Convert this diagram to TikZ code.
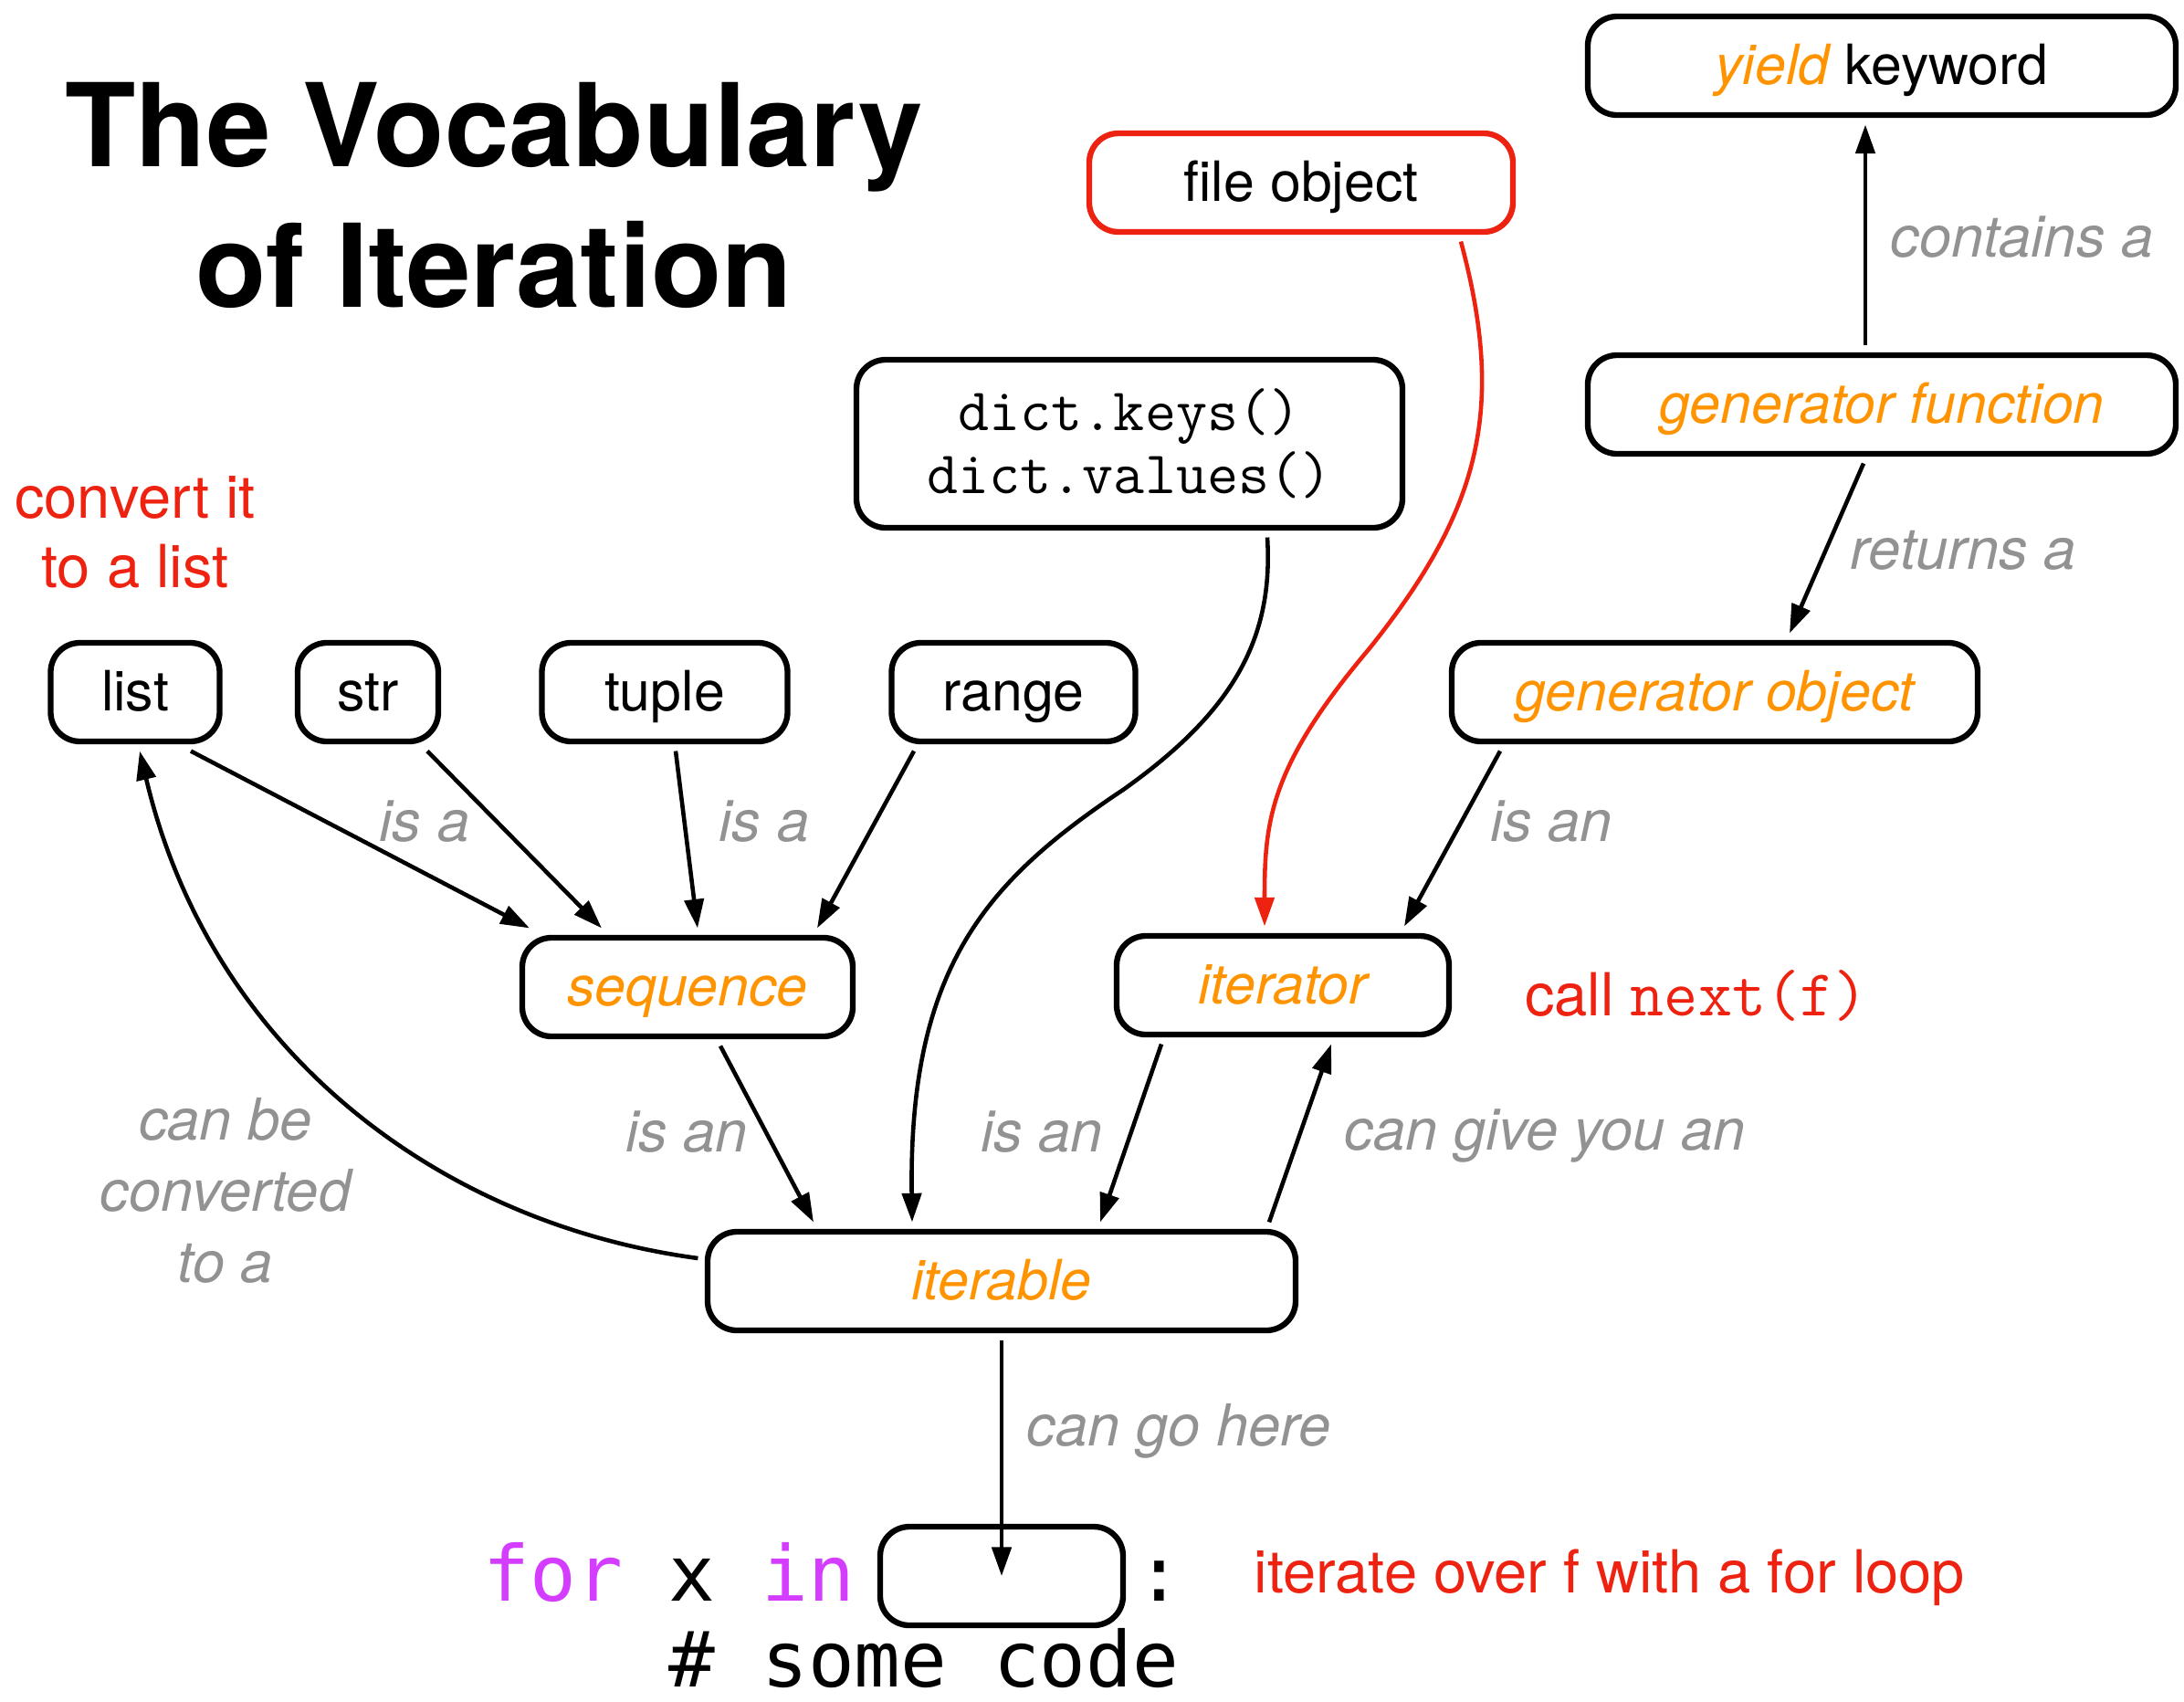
\documentclass[tikz,border=0pt]{standalone}
\usepackage{fontspec}
\setmainfont{TeX Gyre Heros}
\newfontfamily\loopfont{DejaVu Sans Mono}
\usetikzlibrary{arrows.meta}
\usetikzlibrary{positioning}

\definecolor{kworange}{HTML}{FF9300}
\definecolor{kwred}{HTML}{EE2210}
\definecolor{kwgray}{HTML}{929292}
\definecolor{kwpurple}{HTML}{D43DFF}

\tikzset{
  box/.style={draw, line width=1.8pt, rounded corners=0.32cm, minimum height=1.08cm,
    inner sep=0pt, outer sep=3pt, text height=15pt, text depth=3.6pt,
    font=\fontsize{17.3}{20}\selectfont},
  concept/.style={box, text=kworange, font=\fontsize{17.3}{20}\selectfont\itshape},
  relation/.style={text=kwgray, inner sep=0pt, font=\fontsize{18}{22.2}\selectfont\itshape},
  note/.style={text=kwred, inner sep=0pt, font=\fontsize{18.5}{21.6}\selectfont},
  loopcode/.style={anchor=base west, inner sep=0pt, font=\loopfont\fontsize{24}{28}\selectfont},
  link/.style={-{Triangle[length=9pt,width=6pt]}, line width=1.3pt},
}

\begin{document}
\begin{tikzpicture}
     \useasboundingbox (0,0) rectangle (23.92,-18.64);

     % Titel
     \node[anchor=base, font=\fontsize{36}{43}\selectfont\bfseries] (titleA) at (5.41,-1.82) {The Vocabulary};
     \node[anchor=base, font=\fontsize{36}{43}\selectfont\bfseries] (titleB) at (5.41,-3.36) {of Iteration};

     % Kaesten
     \node[box, minimum width=6.44cm] (yield) at (20.61,-0.72) {{\color{kworange}\itshape yield} keyword};
     \node[box, draw=kwred, minimum width=4.64cm] (file) at (14.25,-2.00) {file object};
     \node[draw, line width=1.8pt, rounded corners=0.32cm, outer sep=3pt, minimum width=5.98cm,
       minimum height=1.84cm, align=center, font=\ttfamily\fontsize{18.8}{19.5}\selectfont]
       (dict) at (12.37,-4.86) {dict.keys()\\dict.values()};
     \node[concept, minimum width=6.44cm] (genfunc) at (20.61,-4.43) {generator function};

     \node[box, minimum width=1.85cm] (list) at (1.48,-7.58) {list};
     \node[box, minimum width=1.54cm] (str) at (4.03,-7.58) {str};
     \node[box, minimum width=2.69cm] (tuple) at (7.28,-7.58) {tuple};
     \node[box, minimum width=2.67cm] (range) at (11.10,-7.58) {range};
     \node[concept, minimum width=5.76cm] (genobj) at (18.78,-7.58) {generator object};

     \node[concept, minimum width=3.62cm] (sequence) at (7.53,-10.81) {sequence};
     \node[concept, minimum width=3.64cm] (iterator) at (14.05,-10.79) {iterator};
     \node[concept, minimum width=6.44cm] (iterable) at (10.97,-14.03) {iterable};
     \node[box, minimum width=2.66cm] (slot) at (10.97,-17.26) {};

     % Beschriftungen
     \node[note, align=center] (convert) at (1.48,-5.83) {convert it\\to a list};
     \node[relation, anchor=west] (contains) at (20.70,-2.60) {contains a};
     \node[relation, anchor=west] (returns) at (20.26,-6.03) {returns a};
     \node[relation] (isaA) at (4.65,-9.00) {is a};
     \node[relation] (isaB) at (8.37,-9.00) {is a};
     \node[relation] (isanR) at (16.99,-9.00) {is an};
     \node[relation] (isanL) at (7.52,-12.40) {is an};
     \node[relation] (isanM) at (11.41,-12.40) {is an};
     \node[relation, anchor=west] (give) at (14.72,-12.44) {can give you an};
     \node[relation, align=center] (converted) at (2.47,-13.04) {can be\\converted\\to a};
     \node[relation, anchor=west] (gohere) at (11.24,-15.67) {can go here};
     \node[note, right=0.72cm of iterator, yshift=-0.11cm] (callnext) {call {\ttfamily\fontsize{20.5}{22}\selectfont next(f)}};
     \node[note, anchor=west] (iterate) at (13.73,-17.28) {iterate over f with a for loop};

     % for-Schleife
     \node[loopcode] (forx) at (5.29,-17.53) {\textcolor{kwpurple}{for} x \textcolor{kwpurple}{in}};
     \node[loopcode] (colon) at (12.44,-17.53) {:};
     \node[loopcode] (somecode) at (7.32,-18.47) {\# some code};

     % Pfeile
     \foreach \src/\a/\b in {list/0.61/-1.73, str/0.65/-0.94, tuple/0.12/0.11, range/-1.09/1.42}
     {
       \draw[link] ([xshift=\a cm]\src.south) -- ([xshift=\b cm]sequence.north);
     }
     \draw[link] ([xshift=0.36cm]sequence.south) -- ([xshift=-2.06cm]iterable.north);
     \draw[link] ([xshift=-1.33cm]iterator.south) -- ([xshift=1.08cm]iterable.north);
     \draw[link] ([xshift=2.93cm]iterable.north) -- ([xshift=0.53cm]iterator.south);
     \draw[link] ([xshift=-2.35cm]genobj.south) -- ([xshift=1.33cm]iterator.north);
     \draw[link] ([xshift=-0.20cm]genfunc.south) -- ([xshift=0.82cm]genobj.north);
     \draw[link] ([xshift=-0.18cm]genfunc.north) -- ([xshift=-0.18cm]yield.south);
     \draw[link] (iterable.south) -- (slot.center);

     \draw[link, kwred] ([xshift=1.75cm]file.south) .. controls (16.50,-4.50) and (16.20,-5.60) .. (15.00,-7.10)
       .. controls (13.90,-8.40) and (13.85,-9.00) .. ([xshift=-0.20cm]iterator.north);
     \draw[link] ([xshift=1.51cm]dict.south) .. controls (13.95,-7.00) and (13.50,-7.80) .. (12.30,-8.65)
       .. controls (10.80,-9.65) and (9.95,-10.60) .. ([xshift=-0.98cm]iterable.north);
     \draw[link] ([yshift=0.25cm]iterable.west) .. controls (4.80,-13.40) and (2.30,-11.50) .. ([xshift=0.05cm]list.south);

   \end{tikzpicture}
\end{document}
